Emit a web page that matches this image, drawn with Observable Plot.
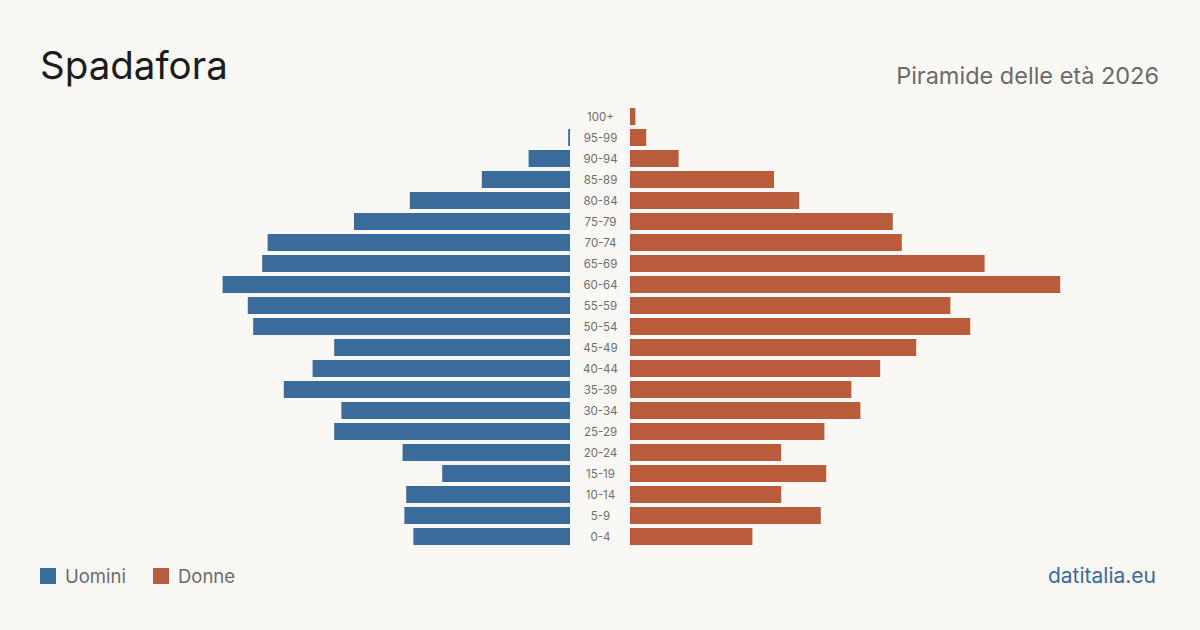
<!DOCTYPE html>
<html>
<head>
<meta charset="utf-8">
<script src="https://cdn.jsdelivr.net/npm/d3@7"></script>
<script src="https://cdn.jsdelivr.net/npm/@observablehq/plot@0.6"></script>
<style>
  html, body { margin: 0; padding: 0; }
  body {
    width: 1200px; height: 630px; position: relative; overflow: hidden;
    background: #f9f8f4; font-family: Inter, "Noto Sans", sans-serif;
  }
  .title { position: absolute; left: 40px; top: 46px; font-size: 38.5px; line-height: 38.5px; color: #1c1c1c; }
  .subtitle { position: absolute; right: 41px; top: 64px; font-size: 23.5px; line-height: 23.5px; color: #6b6b6b; }
  .legend { position: absolute; left: 40px; top: 567px; display: flex; align-items: center; font-size: 18.5px; line-height: 18.5px; color: #6b6b6b; }
  .legend .sw { width: 16px; height: 16px; margin-right: 9px; }
  .legend .item { display: flex; align-items: center; margin-right: 27px; }
  .source { position: absolute; right: 44px; top: 565px; font-size: 21px; line-height: 21px; color: #3b6b9b; }
  #chart { position: absolute; left: 0; top: 96px; }
</style>
</head>
<body>
<div class="title">Spadafora</div>
<div class="subtitle">Piramide delle età 2026</div>
<div id="chart"></div>
<div class="legend">
  <div class="item"><div class="sw" style="background:#3b6b9b"></div>Uomini</div>
  <div class="item"><div class="sw" style="background:#b95c3c"></div>Donne</div>
</div>
<div class="source">datitalia.eu</div>
<script>
// Age classes, oldest first (top of the pyramid)
const ageGroups = ["100+", "95-99", "90-94", "85-89", "80-84", "75-79", "70-74", "65-69", "60-64",
  "55-59", "50-54", "45-49", "40-44", "35-39", "30-34", "25-29", "20-24", "15-19", "10-14", "5-9", "0-4"];
// Residents by age class
const men   = [0, 1, 23, 49, 89, 120, 168, 171, 193, 179, 176, 131, 143, 159, 127, 131, 93, 71, 91, 92, 87];
const women = [3, 9, 27, 80, 94, 146, 151, 197, 239, 178, 189, 159, 139, 123, 128, 108, 84, 109, 84, 106, 68];

const colorMen = "#3b6b9b";
const colorWomen = "#b95c3c";

const rows = ageGroups.map((age, i) => ({age, men: men[i], women: women[i]}));

const chart = Plot.plot({
  width: 1200,
  height: 461,
  marginTop: 10,
  marginBottom: 10,
  marginLeft: 60,
  marginRight: 60,
  style: {background: "transparent", fontFamily: "Inter, 'Noto Sans', sans-serif"},
  x: {domain: [-300, 300], axis: null},
  y: {domain: ageGroups, axis: null, paddingInner: 0.19, paddingOuter: 0.095},
  marks: [
    Plot.barX(rows, {y: "age", x1: 0, x2: d => -d.men, fill: colorMen, dx: -30}),
    Plot.barX(rows, {y: "age", x1: 0, x2: d => d.women, fill: colorWomen, dx: 30}),
    Plot.text(rows, {y: "age", x: 0, text: "age", fill: "#6e6e6e", fontSize: 11.5})
  ]
});
document.getElementById("chart").appendChild(chart);
</script>
</body>
</html>
